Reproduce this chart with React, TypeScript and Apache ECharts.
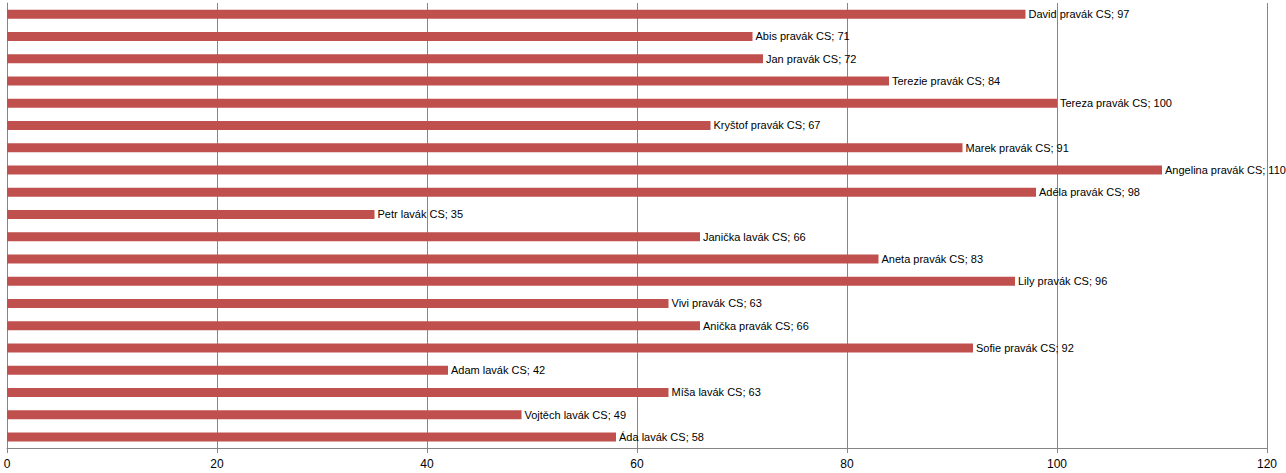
import React, { useEffect, useRef } from "react";
import * as echarts from "echarts";

const categories: string[] = [
  "David pravák CS",
  "Abis pravák CS",
  "Jan pravák CS",
  "Terezie pravák CS",
  "Tereza pravák CS",
  "Kryštof pravák CS",
  "Marek pravák CS",
  "Angelina pravák CS",
  "Adéla pravák CS",
  "Petr lavák CS",
  "Janička lavák CS",
  "Aneta pravák CS",
  "Lily pravák CS",
  "Vivi pravák CS",
  "Anička pravák CS",
  "Sofie pravák CS",
  "Adam lavák CS",
  "Míša lavák CS",
  "Vojtěch lavák CS",
  "Áda lavák CS",
];

const values: number[] = [97, 71, 72, 84, 100, 67, 91, 110, 98, 35, 66, 83, 96, 63, 66, 92, 42, 63, 49, 58];

const axisMin = 0;
const axisMax = 120;
const axisStep = 20;

export default function App() {
  const ref = useRef<HTMLDivElement>(null);
  useEffect(() => {
    if (!ref.current) return;
    const chart = echarts.init(ref.current, undefined, { renderer: "svg" });
    chart.setOption({
      animation: false,
      backgroundColor: "#ffffff",
      grid: { left: 7, right: 19, top: 3, bottom: 25, containLabel: false },
      xAxis: {
        type: "value",
        min: axisMin,
        max: axisMax,
        interval: axisStep,
        axisLine: { show: true, lineStyle: { color: "#868686", width: 1 } },
        axisTick: { show: true, length: 5, lineStyle: { color: "#868686" } },
        splitLine: { show: true, lineStyle: { color: "#868686", width: 1 } },
        axisLabel: {
          color: "#000000",
          fontFamily: "Liberation Sans, Arial, sans-serif",
          fontSize: 12,
          margin: 10,
        },
      },
      yAxis: {
        type: "category",
        data: categories,
        inverse: true,
        axisLine: { show: true, lineStyle: { color: "#868686", width: 1 } },
        axisTick: { show: false },
        axisLabel: { show: false },
        splitLine: { show: false },
      },
      series: [
        {
          type: "bar",
          data: values,
          barWidth: 9,
          itemStyle: { color: "#C0504D" },
          label: {
            show: true,
            position: "right",
            distance: 3,
            formatter: "{b}; {c}",
            color: "#000000",
            fontFamily: "Liberation Sans, Arial, sans-serif",
            fontSize: 11,
          },
        },
      ],
    });
    return () => chart.dispose();
  }, []);
  return (
    <div
      ref={ref}
      style={{ position: "absolute", left: 0, top: 0, width: 1286, height: 473 }}
    />
  );
}
